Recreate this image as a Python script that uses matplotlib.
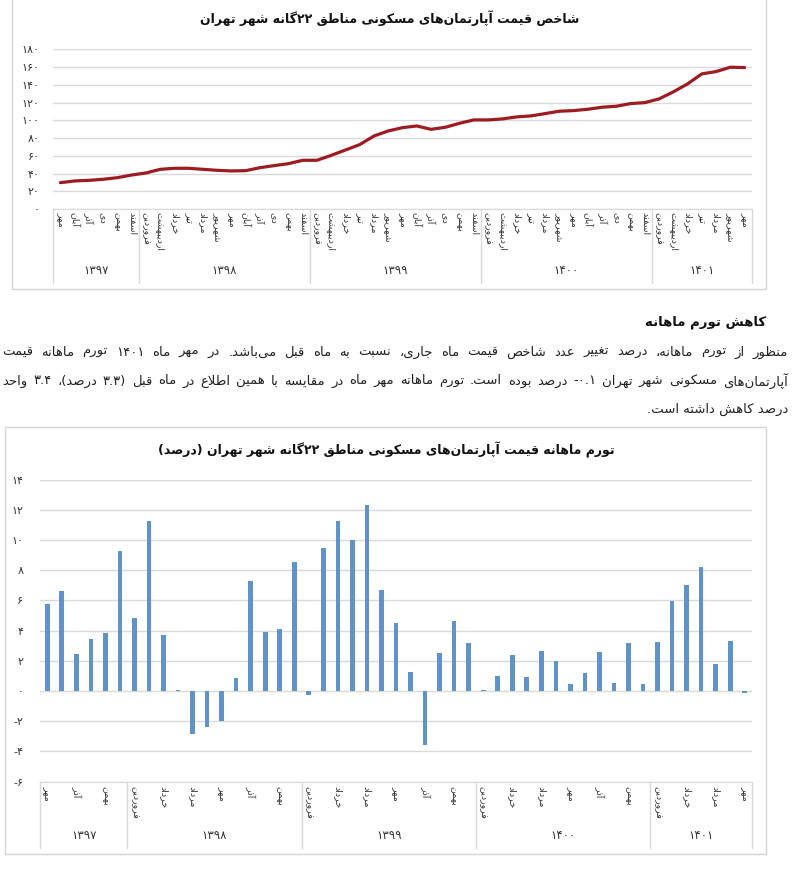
import matplotlib
matplotlib.use('Agg')
import matplotlib.pyplot as plt
from matplotlib.patches import Rectangle

W, H = 800, 881
plt.rcParams['font.family'] = ['DejaVu Sans']

# ---------------- data ----------------
month_names = ['فروردین', 'اردیبهشت', 'خرداد', 'تیر', 'مرداد', 'شهریور',
               'مهر', 'آبان', 'آذر', 'دی', 'بهمن', 'اسفند']
years = ['۱۳۹۷', '۱۳۹۸', '۱۳۹۹', '۱۴۰۰', '۱۴۰۱']
year_first_month = [6, 0, 0, 0, 0]
year_counts = [6, 12, 12, 12, 7]

price_index = [29.7, 31.6, 32.3, 33.5, 35.3, 38.3, 40.6, 44.7, 45.9, 45.9,
               44.7, 43.6, 42.9, 43.2, 46.6, 48.9, 51.1, 54.9, 54.9, 60.5,
               66.5, 72.6, 82.3, 88.0, 91.7, 93.6, 89.8, 92.1, 96.6, 100.4,
               100.4, 101.5, 103.8, 104.9, 107.5, 110.2, 110.9, 112.4, 114.7, 115.8,
               118.8, 119.9, 124.1, 132.0, 141.0, 152.3, 154.9, 159.8, 159.4]

monthly_inflation = [5.78, 6.6, 2.44, 3.47, 3.87, 9.27, 4.82, 11.27, 3.69, 0.05,
                     -2.82, -2.38, -1.96, 0.89, 7.31, 3.93, 4.13, 8.53, -0.25, 9.44,
                     11.27, 9.98, 12.33, 6.69, 4.53, 1.29, -3.56, 2.51, 4.67, 3.16,
                     0.05, 1.02, 2.36, 0.96, 2.64, 1.96, 0.47, 1.2, 2.58, 0.56,
                     3.18, 0.47, 3.22, 5.93, 7.02, 8.22, 1.76, 3.3, -0.1]

index_ticks = [0, 20, 40, 60, 80, 100, 120, 140, 160, 180]
infl_ticks = [-6, -4, -2, 0, 2, 4, 6, 8, 10, 12, 14]

title_top = 'شاخص قیمت آپارتمان\u200cهای مسکونی مناطق ۲۲گانه شهر تهران'
title_bottom = 'تورم ماهانه قیمت آپارتمان\u200cهای مسکونی مناطق ۲۲گانه شهر تهران (درصد)'
heading = 'کاهش تورم ماهانه'
para_lines = [
    'منظور از تورم ماهانه، درصد تغییر عدد شاخص قیمت ماه جاری، نسبت به ماه قبل می\u200cباشد. در مهر ماه ۱۴۰۱ تورم ماهانه قیمت',
    'آپارتمان\u200cهای مسکونی شهر تهران ۰.۱- درصد بوده است. تورم ماهانه مهر ماه در مقایسه با همین اطلاع در ماه قبل (۳.۳ درصد)، ۳.۴ واحد',
    'درصد کاهش داشته است.',
]

# ---------------- Persian shaping helpers ----------------
DUAL = {
    'ئ': '\uFE89\uFE8A\uFE8B\uFE8C', 'ب': '\uFE8F\uFE90\uFE91\uFE92',
    'ت': '\uFE95\uFE96\uFE97\uFE98', 'ث': '\uFE99\uFE9A\uFE9B\uFE9C',
    'ج': '\uFE9D\uFE9E\uFE9F\uFEA0', 'ح': '\uFEA1\uFEA2\uFEA3\uFEA4',
    'خ': '\uFEA5\uFEA6\uFEA7\uFEA8', 'س': '\uFEB1\uFEB2\uFEB3\uFEB4',
    'ش': '\uFEB5\uFEB6\uFEB7\uFEB8', 'ص': '\uFEB9\uFEBA\uFEBB\uFEBC',
    'ض': '\uFEBD\uFEBE\uFEBF\uFEC0', 'ط': '\uFEC1\uFEC2\uFEC3\uFEC4',
    'ظ': '\uFEC5\uFEC6\uFEC7\uFEC8', 'ع': '\uFEC9\uFECA\uFECB\uFECC',
    'غ': '\uFECD\uFECE\uFECF\uFED0', 'ف': '\uFED1\uFED2\uFED3\uFED4',
    'ق': '\uFED5\uFED6\uFED7\uFED8', 'ل': '\uFEDD\uFEDE\uFEDF\uFEE0',
    'م': '\uFEE1\uFEE2\uFEE3\uFEE4', 'ن': '\uFEE5\uFEE6\uFEE7\uFEE8',
    'ه': '\uFEE9\uFEEA\uFEEB\uFEEC', 'ی': '\uFBFC\uFBFD\uFBFE\uFBFF',
    'ک': '\uFB8E\uFB8F\uFB90\uFB91', 'گ': '\uFB92\uFB93\uFB94\uFB95',
    'پ': '\uFB56\uFB57\uFB58\uFB59', 'چ': '\uFB7A\uFB7B\uFB7C\uFB7D',
}
RIGHT = {
    'آ': '\uFE81\uFE82', 'أ': '\uFE83\uFE84', 'ا': '\uFE8D\uFE8E',
    'د': '\uFEA9\uFEAA', 'ذ': '\uFEAB\uFEAC', 'ر': '\uFEAD\uFEAE',
    'ز': '\uFEAF\uFEB0', 'و': '\uFEED\uFEEE', 'ژ': '\uFB8A\uFB8B',
}
LAMALEF = {'ا': '\uFEFB\uFEFC', 'آ': '\uFEF5\uFEF6'}
DIGITS = set('۰۱۲۳۴۵۶۷۸۹0123456789')
MIRROR = {'(': ')', ')': '('}


def shape(s):
    out = []
    i, n = 0, len(s)
    while i < n:
        c = s[i]
        prev = s[i - 1] if i > 0 else ''
        nxt = s[i + 1] if i + 1 < n else ''
        pj = prev in DUAL
        if c == 'ل' and nxt in LAMALEF:
            out.append(LAMALEF[nxt][1] if pj else LAMALEF[nxt][0])
            i += 2
            continue
        if c in DUAL:
            f = DUAL[c]
            nj = (nxt in DUAL) or (nxt in RIGHT)
            out.append(f[3] if (pj and nj) else f[1] if pj else f[2] if nj else f[0])
        elif c in RIGHT:
            out.append(RIGHT[c][1] if pj else RIGHT[c][0])
        elif c == '\u200c':
            pass
        else:
            out.append(c)
        i += 1
    return ''.join(out)


def vis(s):
    sh = shape(s)
    toks = []
    i = 0
    while i < len(sh):
        c = sh[i]
        if c in DIGITS:
            j = i
            while j < len(sh) and (sh[j] in DIGITS or (sh[j] in '.٫' and j + 1 < len(sh) and sh[j + 1] in DIGITS)):
                j += 1
            toks.append(sh[i:j])
            i = j
        else:
            toks.append(MIRROR.get(c, c))
            i += 1
    return ''.join(reversed(toks))


FA = str.maketrans('0123456789', '۰۱۲۳۴۵۶۷۸۹')


def fa_num(v):
    s = str(abs(int(v))).translate(FA)
    return '-' + s if v < 0 else s


# category labels (month of each point)
month_labels = []
for y0, cnt in zip(year_first_month, year_counts):
    for k in range(cnt):
        month_labels.append(month_names[y0 + k])
N = len(month_labels)

# ---------------- figure ----------------
fig = plt.figure(figsize=(W / 100, H / 100), dpi=100)
fig.patch.set_facecolor('white')
renderer = fig.canvas.get_renderer()

GRID = '#D9D9D9'
TXT = '#333333'


def px_axes(x0, ytop, x1, ybot):
    return fig.add_axes([x0 / W, 1 - ybot / H, (x1 - x0) / W, (ybot - ytop) / H])


def frame(x0, ytop, x1, ybot):
    fig.add_artist(Rectangle((x0 / W, 1 - ybot / H), (x1 - x0) / W, (ybot - ytop) / H,
                             transform=fig.transFigure, fill=False, ec='#D4D4D4', lw=1.0))


def multilevel(ax, ax_h_px, year_off_px, sep_len_px):
    tr = ax.get_xaxis_transform()
    bounds = [-0.5]
    for c in year_counts:
        bounds.append(bounds[-1] + c)
    for b in bounds:
        ax.plot([b, b], [0, -sep_len_px / ax_h_px], transform=tr, clip_on=False,
                color=GRID, lw=1.0)
    for k, yr in enumerate(years):
        ax.text((bounds[k] + bounds[k + 1]) / 2, -year_off_px / ax_h_px, yr, transform=tr,
                ha='center', va='center', fontsize=8.5, color=TXT)


def style(ax):
    for sp in ['left', 'right', 'top']:
        ax.spines[sp].set_visible(False)
    ax.spines['bottom'].set_color(GRID)
    ax.yaxis.grid(True, color=GRID, lw=1.0)
    ax.set_axisbelow(True)
    ax.tick_params(axis='both', length=0, colors=TXT)


# ---- top chart ----
frame(12, -10, 766, 289)
fig.text(390 / W, 1 - 18 / H, vis(title_top), ha='center', va='center',
         fontsize=9, fontweight='bold', color='#111111')
ax1 = px_axes(53.3, 49.3, 751.7, 209)
style(ax1)
ax1.plot(range(N), price_index, color='#9C1C22', lw=2.3, solid_capstyle='round')
ax1.set_xlim(-0.5, N - 0.5)
ax1.set_ylim(0, 180)
ax1.set_yticks(index_ticks)
ax1.set_yticklabels([fa_num(v) for v in index_ticks], fontsize=8)
ax1.tick_params(axis='y', pad=10)
ax1.set_xticks(range(N))
ax1.set_xticklabels([vis(m) for m in month_labels], rotation=270, fontsize=6.8)
ax1.tick_params(axis='x', pad=2)
multilevel(ax1, 209 - 49.3, 61, 74)

# ---- paragraph ----
fig.text(766 / W, 1 - 322 / H, vis(heading), ha='right', va='center',
         fontsize=9.5, fontweight='bold', color='#111111')

para_y = [352, 381, 409]
x_left, x_right = 2, 788
PFS = 10.5
# fit font size so the longest justified line has some room for spacing
for li in range(2):
    t = fig.text(0, 0, vis(para_lines[li]), fontsize=PFS)
    w = t.get_window_extent(renderer).width
    t.remove()
    if w > 0.95 * (x_right - x_left):
        PFS = PFS * 0.95 * (x_right - x_left) / w

for li, (line, yy) in enumerate(zip(para_lines, para_y)):
    v = vis(line)
    if li < 2:
        words = v.split(' ')
        arts = [fig.text(0, 1 - yy / H, w, fontsize=PFS, ha='left', va='center', color='#222222')
                for w in words]
        widths = [a.get_window_extent(renderer).width for a in arts]
        gap = (x_right - x_left - sum(widths)) / (len(words) - 1)
        x = x_left
        for a, wd in zip(arts, widths):
            a.set_x(x / W)
            x += wd + gap
    else:
        fig.text(x_right / W, 1 - yy / H, v, fontsize=PFS, ha='right', va='center', color='#222222')

# ---- bottom chart ----
frame(5, 427, 766, 854)
fig.text(386 / W, 1 - 450 / H, vis(title_bottom), ha='center', va='center',
         fontsize=9, fontweight='bold', color='#111111')
ax2 = px_axes(40, 479.6, 752, 781.7)
style(ax2)
ax2.bar(range(N), monthly_inflation, width=0.32, color='#6093C8')
ax2.set_xlim(-0.5, N - 0.5)
ax2.set_ylim(-6, 14)
ax2.set_yticks(infl_ticks)
ax2.set_yticklabels([fa_num(v) for v in infl_ticks], fontsize=8)
ax2.tick_params(axis='y', pad=12)
ax2.set_xticks(range(0, N, 2))
ax2.set_xticklabels([vis(m) for m in month_labels[::2]], rotation=270, fontsize=6.8)
ax2.tick_params(axis='x', pad=3)
multilevel(ax2, 781.7 - 479.6, 54, 66)

fig.savefig('out.png', dpi=100, facecolor='white')
